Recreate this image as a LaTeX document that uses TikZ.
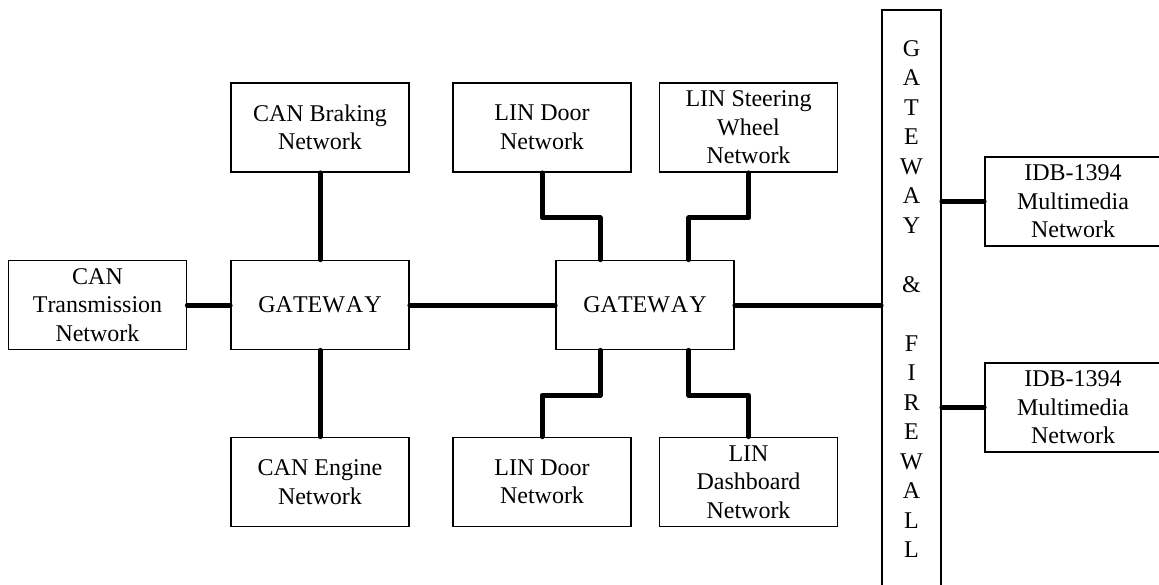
\documentclass[tikz,border=0pt]{standalone}
\usepackage{fontspec}
\setmainfont{Liberation Serif}[Kerning=Off]
\usetikzlibrary{calc}

\tikzset{
  netbox/.style={draw, line width=1.8pt, inner sep=0pt, align=center,
    minimum width=178pt, minimum height=89pt,
    font=\fontsize{24}{28.5}\selectfont},
  link/.style={line width=5pt, line cap=round, line join=round}
}

\begin{document}
\begin{tikzpicture}[x=1pt, y=-1pt]
  \clip (0,0) rectangle (1159,584);
  \fill[white] (0,0) rectangle (1159,584);

  % CAN side
  \node[netbox] (brake)  at (320,127.5) {CAN Braking\\Network};
  \node[netbox] (trans)  at (97.5,305)  {CAN\\Transmission\\Network};
  \node[netbox] (gw1)    at (320,305)   {GATEW\kern1pt A\kern1pt Y};
  \node[netbox] (engine) at (320,482)   {CAN Engine\\Network};

  % LIN side
  \node[netbox] (door1) at (542,127.5)   {LIN Door\\Network};
  \node[netbox] (steer) at (748.5,127.5) {LIN Steering\\Wheel\\Network};
  \node[netbox] (gw2)   at (645,305)     {GATEW\kern1pt A\kern1pt Y};
  \node[netbox] (door2) at (542,482)     {LIN Door\\Network};
  \node[netbox] (dash)  at (748.5,482)   {LIN\\Dashboard\\Network};

  % Gateway and firewall column
  \node[draw, line width=1.8pt, minimum width=59pt, minimum height=582pt,
        inner sep=0pt] (fw) at (911.5,301) {};
  \node[align=center, inner sep=0pt, font=\fontsize{24}{29.5}\selectfont]
    (fwtext) at (911.5,299)
    {G\\A\\T\\E\\W\\A\\Y\\\mbox{}\\\&\\\mbox{}\\F\\I\\R\\E\\W\\A\\L\\L};

  % Multimedia networks
  \node[netbox, minimum width=176pt] (idb1) at (1073,201.5) {IDB-1394\\Multimedia\\Network};
  \node[netbox, minimum width=176pt] (idb2) at (1073,407.5) {IDB-1394\\Multimedia\\Network};

  % attachment points on the second gateway
  \coordinate (g2a) at ([xshift=45pt]gw2.north west);
  \coordinate (g2b) at ([xshift=-46pt]gw2.north east);
  \coordinate (g2c) at ([xshift=45pt]gw2.south west);
  \coordinate (g2d) at ([xshift=-46pt]gw2.south east);

  % links
  \draw[link] (brake.south) -- (gw1.north);
  \draw[link] (gw1.south) -- (engine.north);
  \draw[link] (trans.east) -- (gw1.west);
  \draw[link] (gw1.east) -- (gw2.west);
  \draw[link] (gw2.east) -- (fw.west |- gw2.east);

  \draw[link] (door1.south) -- ++(0,45) -| (g2a);
  \draw[link] (steer.south) -- ++(0,45) -| (g2b);
  \draw[link] (g2c) -- ++(0,45) -| (door2.north);
  \draw[link] (g2d) -- ++(0,45) -| (dash.north);

  \draw[link] (fw.east |- idb1.west) -- (idb1.west);
  \draw[link] (fw.east |- idb2.west) -- (idb2.west);
\end{tikzpicture}
\end{document}
